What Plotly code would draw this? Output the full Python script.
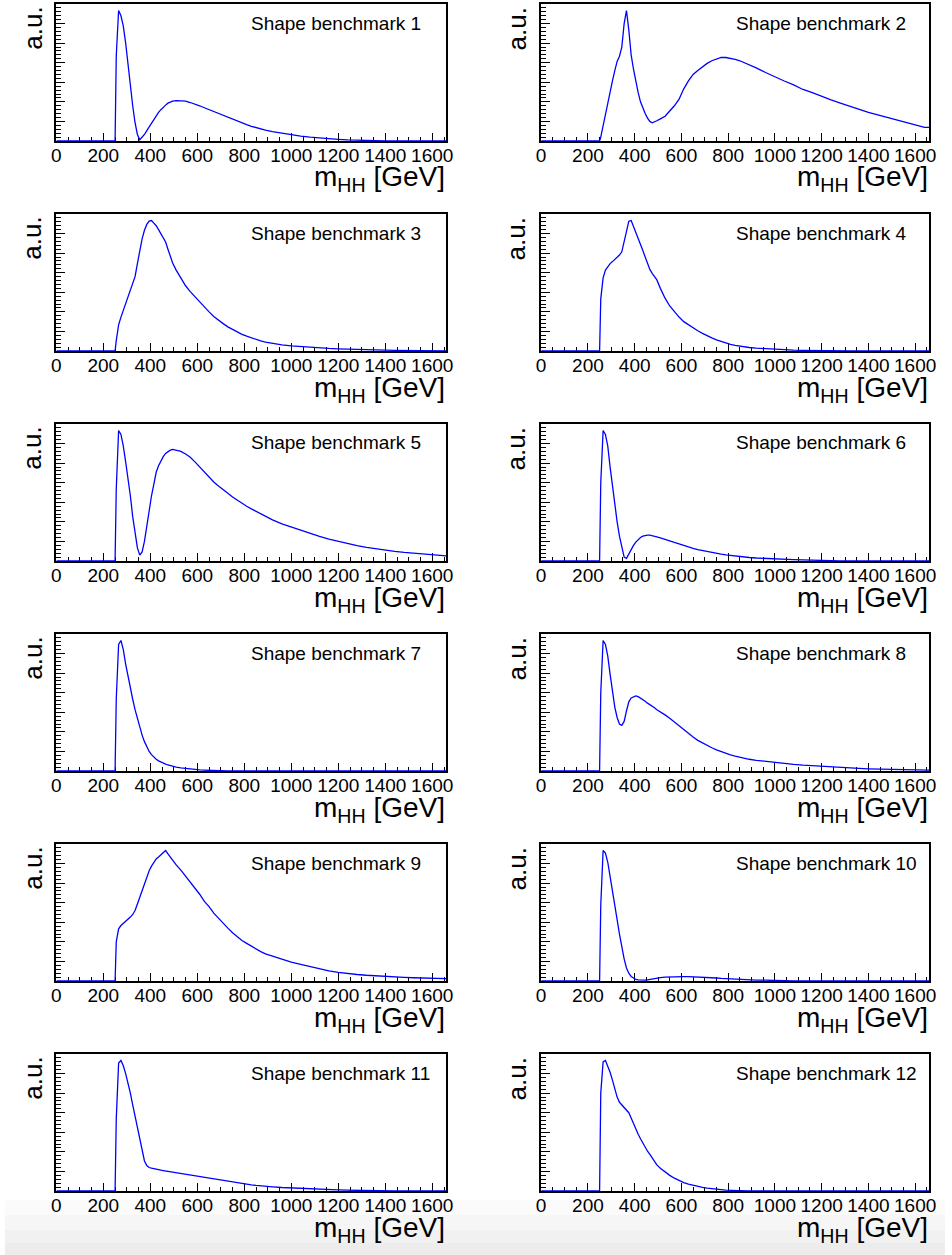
import plotly.graph_objects as go

# m_HH bin lower edges (GeV) and upper end of the last bin
BIN_EDGES = list(range(250, 500, 10)) + list(range(500, 900, 20)) + list(range(900, 1660, 40))
X_MAX = 1660

# normalised bin contents (a.u., peak ~100), one list per shape benchmark
SHAPE_1 = [65, 100, 96, 88, 75, 58, 41, 27, 14, 5, 1, 3, 5, 8, 11, 14, 16.5, 19, 22, 24, 26, 27.5, 29, 30, 30.5,
           31, 31, 30.5, 29.5, 28.5, 27, 25.5, 24, 22.5, 21, 19.5, 18, 16.5, 15, 13.8, 12.6, 11.3, 10.2, 9.2, 8.3,
           7.2, 6.0, 4.8, 3.8, 3.0, 2.3, 1.8, 1.3, 0.9, 0.6, 0.3, 0, 0, 0, 0, 0, 0, 0, 0]
SHAPE_2 = [3, 12, 20, 28, 37, 46, 54, 61, 65, 72, 90, 100, 85, 66, 55, 45, 37, 30, 25, 21, 17.5, 15, 14, 14.5, 15.5,
           17, 19, 23, 27, 32, 40, 46, 51, 54, 57, 59.5, 61.5, 63, 64, 64, 63.5, 62.5, 61.5, 60, 58.5,
           56, 52.5, 49, 46, 43, 39.5, 37, 34, 31.5, 29, 26.5, 24, 22, 20, 18, 16.5, 14.5, 12.5, 10.5]
SHAPE_3 = [8, 20, 26, 31, 36, 41, 45.5, 50.5, 57, 67, 77, 86, 92.5, 97, 99.5, 100, 98, 96, 93, 90, 87, 83.5, 78, 73, 67.5,
           62, 56, 50, 45.5, 41.5, 37.5, 33.5, 30, 26.5, 23.5, 21, 18.5, 16.5, 14.5, 12.8, 11.4, 10, 8.8, 7.7, 6.8,
           5.8, 4.7, 3.9, 3.3, 2.8, 2.4, 2.0, 1.7, 1.4, 1.2, 1.0, 0.8, 0.6, 0.5, 0.4, 0.3, 0.2, 0.2, 0.1]
SHAPE_4 = [40, 56, 62, 65, 67, 68.5, 70, 71.5, 73.5, 76, 84, 93, 99.5, 100, 95.5, 92, 87, 82, 77, 72, 67, 62.5, 59.5, 57, 54.5,
           48, 40.5, 34.5, 30, 26, 22.5, 20, 17.5, 15.5, 13.5, 11.5, 10, 8.5, 7.2, 6, 5, 4.3, 3.7, 3.2, 2.7,
           2.2, 1.7, 1.3, 1.0, 0.7, 0.5, 0.3, 0.2, 0.1, 0, 0, 0, 0, 0, 0, 0, 0, 0, 0]
SHAPE_5 = [55, 100, 97, 88, 76, 64, 50, 34, 20, 10, 4.5, 7, 15, 27, 39, 50, 59, 68, 73, 77, 80, 82.5, 84, 85, 85.5,
           85, 84, 82, 79.5, 76, 72, 68, 64, 60.5, 57.5, 55, 52, 49, 46.5, 44, 42, 40, 38, 36, 34.5,
           31.5, 28.5, 26, 23.5, 21, 18.8, 16.8, 15, 13.3, 11.8, 10.5, 9.3, 8.3, 7.4, 6.6, 5.9, 5.3, 4.7, 4.0]
SHAPE_6 = [60, 100, 97, 88, 72, 57, 43, 30, 19, 10, 3, 2, 5.5, 9, 12, 14.5, 16.5, 18, 19, 19.5, 19.8, 19.8, 19.5, 19, 18.5,
           17.8, 16.8, 15.5, 14.2, 13, 11.8, 10.7, 9.7, 8.8, 8, 7.2, 6.5, 5.8, 5.2, 4.7, 4.2, 3.8, 3.4, 3, 2.7,
           2.3, 1.9, 1.6, 1.3, 1.1, 0.9, 0.6, 0.4, 0.2, 0, 0, 0, 0, 0, 0, 0, 0, 0, 0]
SHAPE_7 = [55, 97, 100, 93, 82, 72, 63, 55, 47, 40, 33, 27.5, 22.5, 18.5, 15, 12.5, 10.5, 9, 7.8, 6.8, 6, 5.3, 4.6, 4, 3.5,
           3, 2.4, 1.9, 1.5, 1.1, 0.8, 0.6, 0.4, 0.3, 0.2, 0.1, 0, 0, 0, 0, 0, 0, 0, 0, 0,
           0, 0, 0, 0, 0, 0, 0, 0, 0, 0, 0, 0, 0, 0, 0, 0, 0, 0, 0]
SHAPE_8 = [60, 100, 97, 88, 74, 60, 49, 41, 36, 35, 38, 46, 53, 56, 57, 57.5, 57, 56, 54.5, 53.5, 52, 51, 49.5, 48.5, 47,
           45.5, 43, 40.5, 37.5, 34.5, 31.5, 28.5, 26, 23.5, 21.5, 19.5, 17.8, 16.2, 14.8, 13.6, 12.4, 11.4, 10.5, 9.7, 9.0,
           8.2, 7.3, 6.5, 5.8, 5.1, 4.5, 4.0, 3.5, 3.0, 2.6, 2.3, 2.0, 1.7, 1.5, 1.3, 1.1, 1.0, 0.8, 0.7]
SHAPE_9 = [30, 40, 42.5, 44, 45.5, 47, 49, 51, 54, 59, 64, 69, 74.5, 80, 84.5, 88, 91, 93.5, 95, 96.5, 98, 100, 97.5, 95, 92.5,
           89, 85, 80.5, 76, 71, 66.5, 61, 57, 52, 48, 44, 40.5, 37, 34, 31, 28.8, 26.5, 24.5, 22.5, 20.8,
           19, 16.5, 14.5, 12.7, 11, 9.3, 7.8, 6.6, 5.6, 5.0, 4.4, 3.9, 3.4, 3.1, 2.8, 2.5, 2.3, 2.0, 1.8]
SHAPE_10 = [58, 100, 98, 91, 80, 68, 58, 47, 36, 26, 17, 10, 6, 3.5, 2, 1.2, 0.8, 0.6, 0.5, 0.6, 0.9, 1.3, 1.7, 2.0, 2.3,
            2.6, 2.9, 3.1, 3.2, 3.3, 3.3, 3.3, 3.2, 3.1, 3.0, 2.8, 2.6, 2.3, 2.0, 1.8, 1.5, 1.3, 1.1, 0.9, 0.8,
            0.7, 0.6, 0.3, 0, 0, 0, 0, 0, 0, 0, 0, 0, 0, 0, 0, 0, 0, 0, 0]
SHAPE_11 = [55, 98, 100, 96, 90, 83, 75, 66, 57, 48, 39, 30, 23, 19.5, 18, 17.5, 17, 16.7, 16.4, 16, 15.7, 15.4, 15.1, 14.8, 14.5,
            14.2, 13.7, 13.1, 12.4, 11.7, 11, 10.3, 9.6, 9, 8.4, 7.8, 7.2, 6.6, 6.1, 5.6, 5.1, 4.7, 4.3, 3.9, 3.6,
            3.2, 2.7, 2.3, 1.9, 1.6, 1.3, 1.0, 0.8, 0.6, 0.4, 0.3, 0, 0, 0, 0, 0, 0, 0, 0]
SHAPE_12 = [75, 99, 100, 96, 91, 85, 78, 72, 68, 66, 64.5, 62.5, 60, 56, 51.5, 47.5, 43.5, 40, 36.5, 33.5, 30.5, 28, 25, 22.5, 20,
            17.5, 14.5, 12, 9.8, 8, 6.5, 5.3, 4.3, 3.5, 2.8, 2.2, 1.7, 1.3, 1.0, 0.7, 0.5, 0.3, 0.2, 0.1, 0,
            0, 0, 0, 0, 0, 0, 0, 0, 0, 0, 0, 0, 0, 0, 0, 0, 0, 0, 0]

SHAPES = [SHAPE_1, SHAPE_2, SHAPE_3, SHAPE_4, SHAPE_5, SHAPE_6,
          SHAPE_7, SHAPE_8, SHAPE_9, SHAPE_10, SHAPE_11, SHAPE_12]
LABELS = [f"Shape benchmark {i}" for i in range(1, 13)]

W, H = 952, 1255
FONT = "Liberation Sans, Arial, Helvetica, sans-serif"
COL_X = [(52, 447), (543, 936)]
ROW_TOP0, ROW_STEP, FRAME_H = 4, 210, 137


def px(x):
    return x / W


def py(y):
    return 1 - y / H


# bin centres, so the fine-binned histogram reads as a smooth curve
upper = BIN_EDGES[1:] + [X_MAX]
centres = [(lo + hi) / 2 for lo, hi in zip(BIN_EDGES, upper)]

fig = go.Figure()
annotations = []
for i, vals in enumerate(SHAPES):
    row, col = divmod(i, 2)
    n = i + 1
    sfx = "" if n == 1 else str(n)
    x0, x1 = COL_X[col]
    top = ROW_TOP0 + ROW_STEP * row
    bot = top + FRAME_H

    xs = [0, BIN_EDGES[0]] + centres + [X_MAX]
    ys = [0, 0] + vals + [vals[-1]]
    fig.add_trace(go.Scatter(x=xs, y=ys, mode="lines", line=dict(color="#0000ff", width=1.3),
                             xaxis=f"x{sfx}", yaxis=f"y{sfx}", showlegend=False, hoverinfo="skip"))

    fig.layout[f"xaxis{sfx}"] = dict(
        domain=[px(x0), px(x1)], anchor=f"y{sfx}", range=[0, X_MAX],
        tick0=0, dtick=200, ticks="inside", ticklen=8, tickwidth=1, tickcolor="black",
        minor=dict(dtick=50, ticks="inside", ticklen=4, tickcolor="black", showgrid=False),
        showline=True, linewidth=2, linecolor="black", mirror=True, showgrid=False, zeroline=False,
        tickfont=dict(family=FONT, size=19, color="black"), ticklabelstandoff=-4,
        layer="below traces", fixedrange=True)
    fig.layout[f"yaxis{sfx}"] = dict(
        domain=[py(bot), py(top)], anchor=f"x{sfx}", range=[0, 105],
        tick0=0, dtick=15, ticks="inside", ticklen=9, tickwidth=1, tickcolor="black",
        minor=dict(dtick=3, ticks="inside", ticklen=5, tickcolor="black", showgrid=False),
        showticklabels=False, showline=True, linewidth=2, linecolor="black", mirror=True,
        showgrid=False, zeroline=False, layer="below traces", fixedrange=True)

    annotations.append(dict(x=px(x0 + 195), y=py(top + 19), xref="paper", yref="paper", text=LABELS[i],
                            showarrow=False, xanchor="left", yanchor="middle",
                            font=dict(family=FONT, size=19, color="black")))
    annotations.append(dict(x=px(x0 - 24.5), y=py(top + 1), xref="paper", yref="paper", text="a.u.",
                            textangle=-90, showarrow=False, xanchor="center", yanchor="top",
                            font=dict(family=FONT, size=26, color="black")))
    annotations.append(dict(x=px(x1 + 1), y=py(bot + 38), xref="paper", yref="paper",
                            text="m<sub>HH</sub> [GeV]", showarrow=False, xanchor="right", yanchor="middle",
                            font=dict(family=FONT, size=28, color="black")))

# faint grey band at the very bottom of the page
bands = [(1200, 1215, "#fbfbfb"), (1215, 1230, "#f6f6f6"), (1230, 1243, "#f1f1f1"), (1243, 1255, "#ececec")]
shapes = [dict(type="rect", xref="paper", yref="paper", x0=0, x1=1, y0=py(b), y1=py(t),
               fillcolor=c, line=dict(width=0), layer="below") for t, b, c in bands]

fig.update_layout(width=W, height=H, margin=dict(l=0, r=0, t=0, b=0),
                  paper_bgcolor="white", plot_bgcolor="white",
                  annotations=annotations, shapes=shapes, showlegend=False)
fig.write_html("out.html", config={"displayModeBar": False},
               post_script="document.body.style.margin = '0';")
